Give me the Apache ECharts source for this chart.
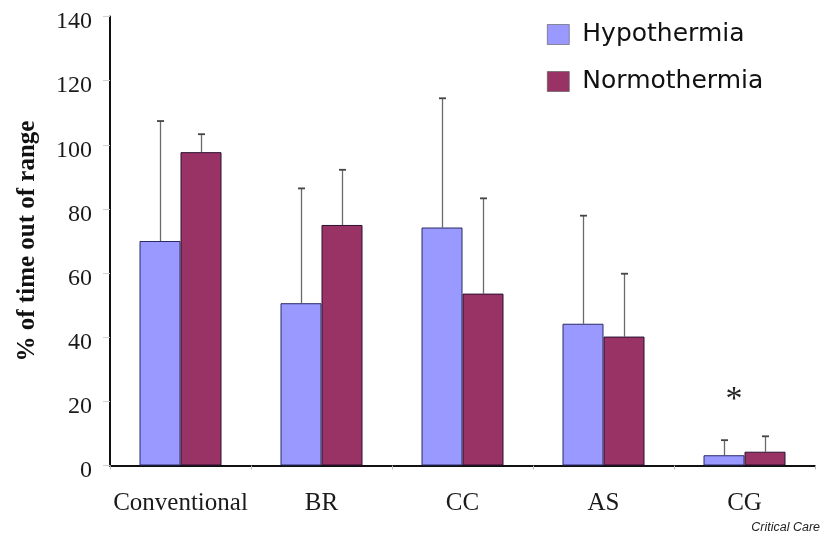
<!DOCTYPE html>
<html>
<head>
<meta charset="utf-8">
<script src="https://cdn.jsdelivr.net/npm/echarts@6/dist/echarts.min.js"></script>
<style>
  html, body { margin: 0; padding: 0; background: #fff; }
  #chart { width: 827px; height: 537px; }
</style>
</head>
<body>
<div id="chart"></div>
<script>
// Controller groups and their mean / upper SD values (% of time out of range)
var categories = ['Conventional', 'BR', 'CC', 'AS', 'CG'];
var hypothermia = [70.0, 50.6, 74.2, 44.2, 3.2];
var hypothermiaUpper = [107.4, 86.4, 114.5, 77.9, 7.9];
var normothermia = [97.7, 75.0, 53.6, 40.2, 4.3];
var normothermiaUpper = [103.3, 92.2, 83.3, 59.8, 9.1];
var yTicks = [0, 20, 40, 60, 80, 100, 120, 140];
// significance marker above the CG group
var markerCategory = 'CG';
var markerValue = 21.4;

var BAR_W = 41;
var serif = '"Liberation Serif", "Times New Roman", serif';

function errorSeries(name, upper, means, side) {
  return {
    type: 'custom',
    name: name + ' SD',
    z: 1,
    silent: true,
    data: upper.map(function (u, i) { return [i, means[i], u]; }),
    renderItem: function (params, api) {
      var base = api.coord([api.value(0), api.value(1)]);
      var top = api.coord([api.value(0), api.value(2)]);
      var x = Math.round(base[0] + side * BAR_W / 2) + 0.5;
      return {
        type: 'group',
        children: [
          { type: 'line', shape: { x1: x, y1: base[1], x2: x, y2: top[1] },
            style: { stroke: '#6a6a6a', lineWidth: 1.3 } },
          { type: 'line', shape: { x1: x - 3.5, y1: top[1], x2: x + 3.5, y2: top[1] },
            style: { stroke: '#444', lineWidth: 1.8 } }
        ]
      };
    }
  };
}

var chart = echarts.init(document.getElementById('chart'));
chart.setOption({
  animation: false,
  backgroundColor: '#fff',
  grid: { left: 110, right: 12, top: 16.5, bottom: 71.5, containLabel: false },
  legend: {
    orient: 'vertical',
    left: 547,
    top: 22,
    padding: 0,
    icon: 'rect',
    itemWidth: 22,
    itemHeight: 20,
    itemGap: 22,
    data: ['Hypothermia', 'Normothermia'],
    itemStyle: { borderColor: '#555', borderWidth: 0.6 },
    textStyle: {
      fontFamily: '"DejaVu Sans", sans-serif',
      fontSize: 25,
      lineHeight: 25,
      color: '#111',
      padding: [0, 0, 0, 8]
    }
  },
  xAxis: {
    type: 'category',
    data: categories,
    axisLine: { lineStyle: { color: '#111', width: 2 } },
    axisTick: { show: true, length: 4, lineStyle: { color: '#bbb' } },
    axisLabel: { interval: 0, fontFamily: serif, fontSize: 25, color: '#1a1a1a', margin: 25 }
  },
  yAxis: {
    type: 'value',
    min: 0,
    max: 140,
    interval: 20,
    name: '% of time out of range',
    nameLocation: 'middle',
    nameRotate: 90,
    nameGap: 60,
    nameTextStyle: { fontFamily: serif, fontSize: 25, fontWeight: 'bold', color: '#111', padding: [0, 0, 10, 0] },
    splitLine: { show: false },
    axisLine: { show: true, lineStyle: { color: '#111', width: 2 } },
    axisTick: { show: true, length: 7, lineStyle: { color: '#d0d0d0' } },
    axisLabel: {
      fontFamily: serif, fontSize: 24, color: '#1a1a1a', margin: 18,
      verticalAlign: 'top',
      lineHeight: 11,
      formatter: function (v) { return yTicks.indexOf(v) >= 0 ? String(v) : ''; }
    }
  },
  series: [
    {
      name: 'Hypothermia',
      type: 'bar',
      data: hypothermia,
      barWidth: BAR_W,
      barGap: '0%',
      z: 2,
      itemStyle: { color: '#9999ff', borderColor: '#2a2a66', borderWidth: 1 }
    },
    {
      name: 'Normothermia',
      type: 'bar',
      data: normothermia,
      barWidth: BAR_W,
      barGap: '0%',
      z: 2,
      itemStyle: { color: '#993366', borderColor: '#2a1030', borderWidth: 1 },
      markPoint: {
        symbol: 'circle',
        symbolSize: 0,
        silent: true,
        data: [{ coord: [markerCategory, markerValue] }],
        label: {
          show: true,
          formatter: '*',
          offset: [-31, 3],
          fontFamily: serif,
          fontSize: 34,
          color: '#222'
        }
      }
    },
    errorSeries('Hypothermia', hypothermiaUpper, hypothermia, -1),
    errorSeries('Normothermia', normothermiaUpper, normothermia, 1)
  ],
  graphic: [
    {
      type: 'text',
      right: 7,
      bottom: 3,
      style: {
        text: 'Critical Care',
        fontFamily: '"Liberation Sans", Arial, sans-serif',
        fontStyle: 'italic',
        fontSize: 12.5,
        fill: '#222'
      }
    }
  ]
});
</script>
</body>
</html>
